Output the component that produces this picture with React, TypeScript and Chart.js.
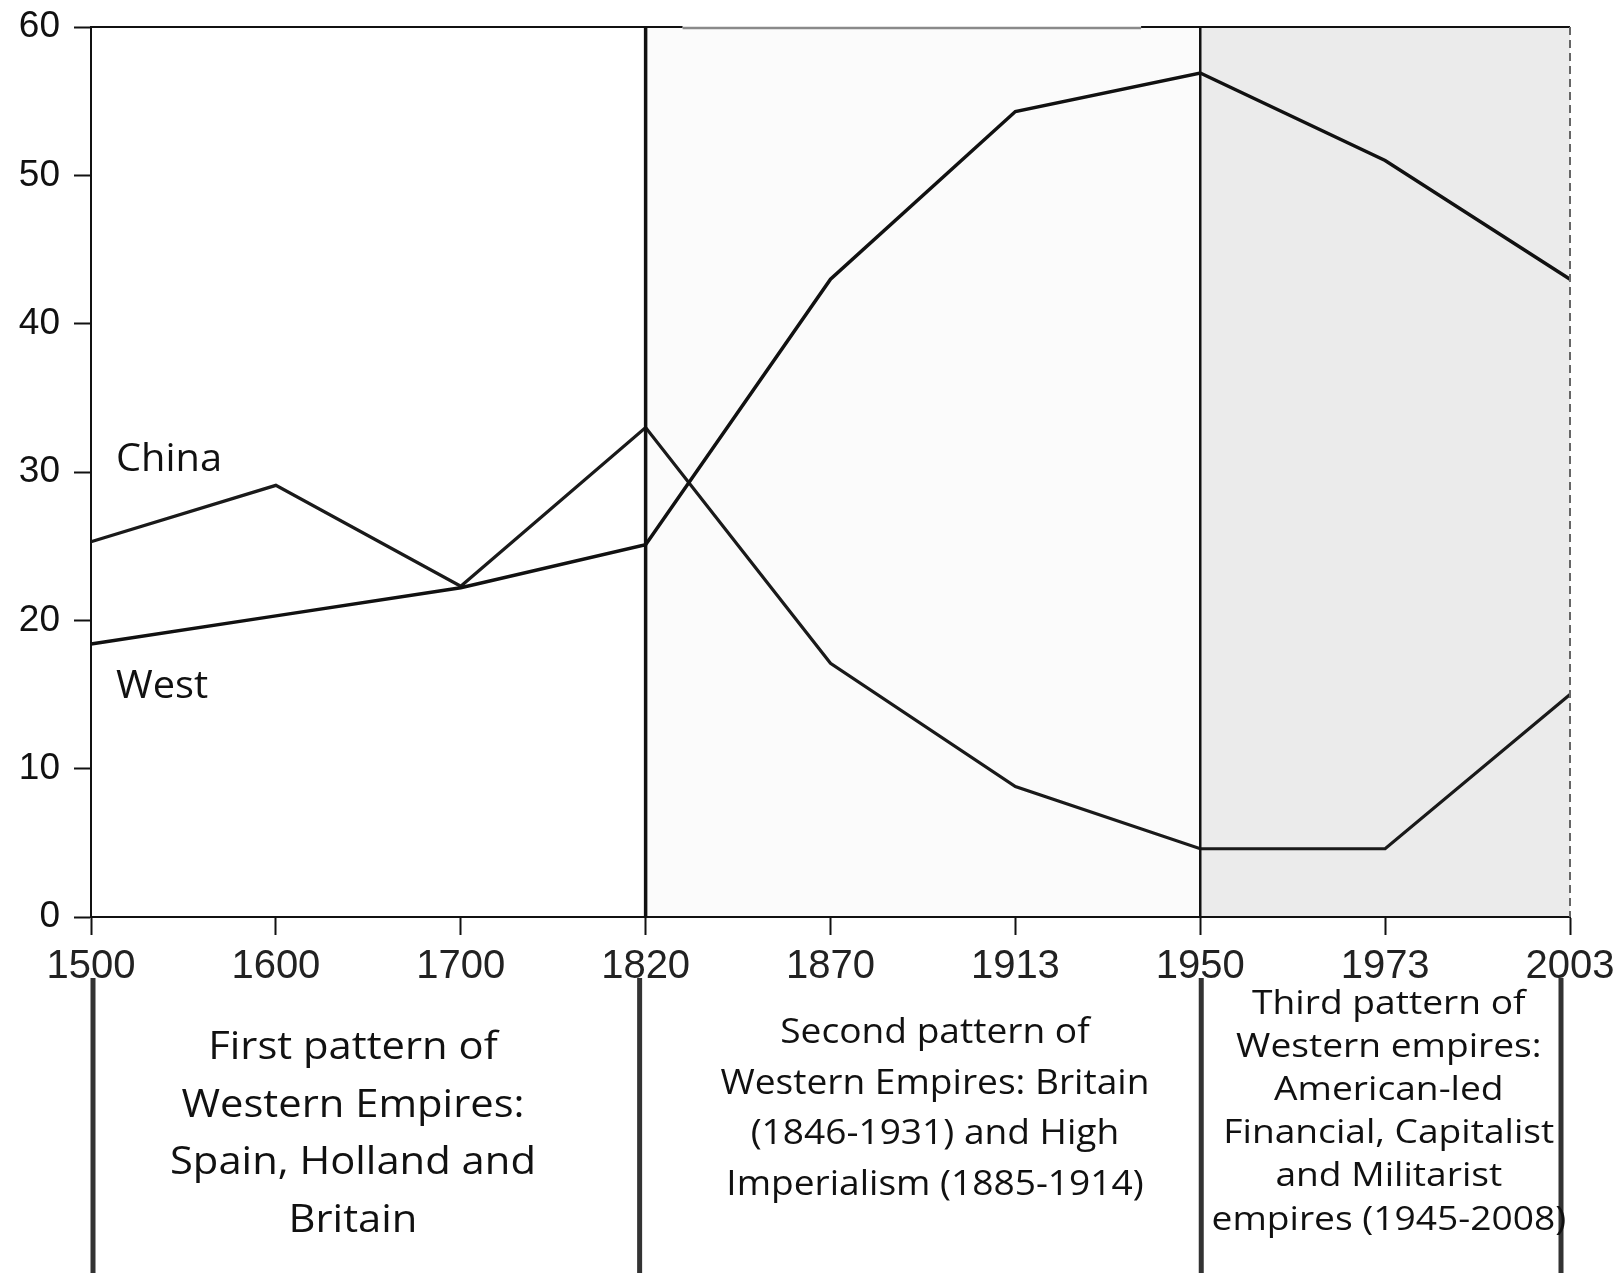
import React, { useEffect, useRef } from "react";
import { Chart, registerables } from "chart.js";

Chart.register(...registerables);

// ---- data ----
const years = ["1500", "1600", "1700", "1820", "1870", "1913", "1950", "1973", "2003"];
const westShare = [18.4, 20.3, 22.2, 25.1, 43.0, 54.3, 56.9, 51.0, 43.0];
const chinaShare = [25.3, 29.1, 22.3, 33.0, 17.1, 8.8, 4.6, 4.6, 15.0];
const seriesNames = ["West", "China"];

const period1Lines = ["First pattern of", "Western Empires:", "Spain, Holland and", "Britain"];
const period2Lines = ["Second pattern of", "Western Empires: Britain", "(1846-1931) and High", "Imperialism (1885-1914)"];
const period3Lines = [
  "Third pattern of",
  "Western empires:",
  "American-led",
  "Financial, Capitalist",
  "and Militarist",
  "empires (1945-2008)",
];

const W = 1622;
const H = 1273;
const TEXT_FONT = "'Open Sans', 'Noto Sans', sans-serif";

export default function App() {
  const ref = useRef<HTMLCanvasElement>(null);

  useEffect(() => {
    document.body.style.margin = "0";
    const canvas = ref.current as HTMLCanvasElement;

    const drawStretched = (ctx: any, t: string, x: number, y: number, sx: number) => {
      ctx.save();
      ctx.translate(x, y);
      ctx.scale(sx, 1);
      ctx.fillText(t, 0, 0);
      ctx.restore();
    };

    const deco = {
      id: "deco",
      beforeDraw(chart: any) {
        const { ctx, chartArea: a, scales } = chart;
        const x = scales.x;
        ctx.save();
        ctx.fillStyle = "#ffffff";
        ctx.fillRect(0, 0, chart.width, chart.height);
        const x1820 = x.getPixelForValue(3);
        const x1950 = x.getPixelForValue(6);
        const x2003 = x.getPixelForValue(8);
        ctx.fillStyle = "#fbfbfb";
        ctx.fillRect(x1820, a.top, x1950 - x1820, a.bottom - a.top);
        ctx.fillStyle = "#ebebeb";
        ctx.fillRect(x1950, a.top, x2003 - x1950, a.bottom - a.top);
        ctx.restore();
      },
      afterDatasetsDraw(chart: any) {
        const { ctx, chartArea: a, scales } = chart;
        const x = scales.x;
        ctx.save();
        // top border
        ctx.strokeStyle = "#111";
        ctx.lineWidth = 2;
        ctx.beginPath();
        ctx.moveTo(a.left, a.top);
        ctx.lineTo(x.getPixelForValue(3.2), a.top);
        ctx.moveTo(x.getPixelForValue(5.68), a.top);
        ctx.lineTo(a.right, a.top);
        ctx.stroke();
        ctx.strokeStyle = "#8a8a8a";
        ctx.lineWidth = 2.5;
        ctx.beginPath();
        ctx.moveTo(x.getPixelForValue(3.2), a.top + 1);
        ctx.lineTo(x.getPixelForValue(5.68), a.top + 1);
        ctx.stroke();
        // right dashed border
        ctx.strokeStyle = "#666";
        ctx.lineWidth = 2;
        ctx.setLineDash([8, 5]);
        ctx.beginPath();
        ctx.moveTo(a.right, a.top);
        ctx.lineTo(a.right, a.bottom);
        ctx.stroke();
        ctx.setLineDash([]);
        // period dividers
        ctx.strokeStyle = "#111";
        ctx.lineWidth = 3.5;
        ctx.beginPath();
        ctx.moveTo(x.getPixelForValue(3), a.top);
        ctx.lineTo(x.getPixelForValue(3), a.bottom);
        ctx.stroke();
        ctx.lineWidth = 2.5;
        ctx.beginPath();
        ctx.moveTo(x.getPixelForValue(6), a.top);
        ctx.lineTo(x.getPixelForValue(6), a.bottom);
        ctx.stroke();
        ctx.restore();
      },
      afterDraw(chart: any) {
        const { ctx, scales } = chart;
        const x = scales.x;
        const y = scales.y;
        ctx.save();
        // series labels
        ctx.fillStyle = "#111";
        ctx.textAlign = "left";
        ctx.textBaseline = "alphabetic";
        ctx.font = `38px ${TEXT_FONT}`;
        const sLab = 106 / ctx.measureText(seriesNames[1]).width;
        drawStretched(ctx, seriesNames[1], x.getPixelForValue(0) + 25, y.getPixelForValue(30.1), sLab);
        drawStretched(ctx, seriesNames[0], x.getPixelForValue(0) + 25, y.getPixelForValue(14.76), sLab);

        // period bars below axis
        const barTop = 978;
        const bars = [
          x.getPixelForValue(0) + 2,
          x.getPixelForValue(3) - 6,
          x.getPixelForValue(6) + 1,
          x.getPixelForValue(8) - 9,
        ];
        ctx.strokeStyle = "#333";
        ctx.lineWidth = 5;
        bars.forEach((bx) => {
          ctx.beginPath();
          ctx.moveTo(bx, barTop);
          ctx.lineTo(bx, chart.height);
          ctx.stroke();
        });

        // period texts
        ctx.textAlign = "center";
        ctx.fillStyle = "#111";
        const drawBlock = (
          lines: string[],
          cx: number,
          y0: number,
          lh: number,
          size: number,
          refLine: number,
          targetW: number
        ) => {
          ctx.font = `${size}px ${TEXT_FONT}`;
          const sx = targetW / ctx.measureText(lines[refLine]).width;
          lines.forEach((t, i) => drawStretched(ctx, t, cx, y0 + i * lh, sx));
        };
        drawBlock(period1Lines, x.getPixelForValue(1.417), 1059, 57.7, 39, 2, 366);
        drawBlock(period2Lines, x.getPixelForValue(4.565), 1043, 50.7, 35, 1, 429);
        drawBlock(period3Lines, x.getPixelForValue(7.02), 1014, 43.1, 33, 3, 331);
        ctx.restore();
      },
    };

    const chart = new Chart(canvas, {
      type: "line",
      data: {
        labels: years,
        datasets: [
          {
            label: seriesNames[0],
            data: westShare,
            borderColor: "#111",
            borderWidth: 3.5,
            pointRadius: 0,
            tension: 0,
            fill: false,
          },
          {
            label: seriesNames[1],
            data: chinaShare,
            borderColor: "#1a1a1a",
            borderWidth: 3.2,
            pointRadius: 0,
            tension: 0,
            fill: false,
          },
        ],
      },
      options: {
        responsive: false,
        animation: false,
        devicePixelRatio: 1,
        layout: { padding: { top: 27, right: 52, left: 0, bottom: 0 } },
        plugins: {
          legend: { display: false },
          tooltip: { enabled: false },
          title: { display: false },
        },
        scales: {
          x: {
            type: "category",
            offset: false,
            grid: {
              drawOnChartArea: false,
              drawTicks: true,
              tickLength: 18,
              tickColor: "#111",
              tickWidth: 2,
            },
            border: { display: true, color: "#111", width: 2 },
            ticks: {
              color: "#222",
              font: { family: "'Liberation Sans', Arial, sans-serif", size: 40 },
              padding: 8,
              maxRotation: 0,
              autoSkip: false,
            },
            afterFit(scale: any) {
              scale.height = 356;
              scale.paddingLeft = 0;
              scale.paddingRight = 0;
            },
          },
          y: {
            min: 0,
            max: 60,
            grid: {
              drawOnChartArea: false,
              drawTicks: true,
              tickLength: 17,
              tickColor: "#111",
              tickWidth: 2,
            },
            border: { display: true, color: "#111", width: 2 },
            ticks: {
              stepSize: 10,
              color: "#111",
              font: { family: "'Liberation Sans', Arial, sans-serif", size: 37 },
              padding: 14,
            },
            afterFit(scale: any) {
              scale.width = 91;
              scale.paddingTop = 0;
              scale.paddingBottom = 0;
            },
          },
        },
      },
      plugins: [deco],
    });

    return () => {
      chart.destroy();
    };
  }, []);

  return <canvas ref={ref} width={W} height={H} style={{ display: "block" }} />;
}
